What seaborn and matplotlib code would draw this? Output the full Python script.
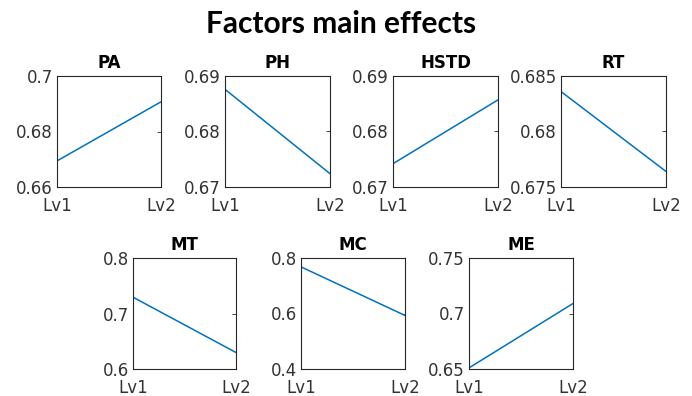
import matplotlib
matplotlib.use("Agg")
import matplotlib.pyplot as plt
import seaborn as sns
import pandas as pd

sns.set_theme(style="white")
plt.rcParams['font.family'] = ['DejaVu Sans']

levels = ["Lv1", "Lv2"]
factors = ["PA", "PH", "HSTD", "RT", "MT", "MC", "ME"]
pa = [0.6694, 0.6907]
ph = [0.6876, 0.6724]
hstd = [0.6742, 0.6857]
rt = [0.6836, 0.6764]
mt = [0.7294, 0.6297]
mc = [0.768, 0.593]
me = [0.651, 0.709]
values = [pa, ph, hstd, rt, mt, mc, me]
ylims = [(0.66, 0.70), (0.67, 0.69), (0.67, 0.69), (0.675, 0.685),
         (0.6, 0.8), (0.4, 0.8), (0.65, 0.75)]
yticks = [[0.66, 0.68, 0.70], [0.67, 0.68, 0.69], [0.67, 0.68, 0.69],
          [0.675, 0.68, 0.685], [0.6, 0.7, 0.8], [0.4, 0.6, 0.8],
          [0.65, 0.7, 0.75]]
yticklabels = [["0.66", "0.68", "0.7"], ["0.67", "0.68", "0.69"],
               ["0.67", "0.68", "0.69"], ["0.675", "0.68", "0.685"],
               ["0.6", "0.7", "0.8"], ["0.4", "0.6", "0.8"],
               ["0.65", "0.7", "0.75"]]

W, H = 692, 396
fig = plt.figure(figsize=(W / 100, H / 100), dpi=100)
fig.patch.set_facecolor("white")

# pixel boxes (left, top, right, bottom)
boxes = [(57, 76, 161, 187), (225, 76, 330, 187), (393, 76, 498, 187),
         (561, 76, 666, 187), (133, 258, 236, 369), (301, 258, 405, 369),
         (469, 258, 573, 369)]

for name, vals, yl, yt, ytl, (l, t, r, b) in zip(factors, values, ylims, yticks, yticklabels, boxes):
    ax = fig.add_axes([l / W, 1 - b / H, (r - l) / W, (b - t) / H])
    df = pd.DataFrame({"level": [0, 1], "value": vals})
    sns.lineplot(data=df, x="level", y="value", ax=ax, color="#0072BD", linewidth=1.1)
    ax.set_xlim(0, 1)
    ax.set_ylim(*yl)
    ax.set_xticks([0, 1])
    ax.set_xticklabels(levels)
    ax.set_yticks(yt)
    ax.set_yticklabels(ytl)
    ax.set_xlabel("")
    ax.set_ylabel("")
    ax.set_title(name, fontsize=12, fontweight="bold", color="black", pad=6)
    ax.tick_params(axis="both", direction="in", length=3, width=0.6, colors="#262626",
                   labelsize=12, labelcolor="#333333", top=True, right=True, pad=3)
    ax.tick_params(axis="x", pad=7)
    for s in ax.spines.values():
        s.set_color("#262626")
        s.set_linewidth(0.8)
        s.set_visible(True)
    ax.set_facecolor("white")

fig.text(341 / W, 1 - 33 / H, "Factors main effects", ha="center", va="baseline",
         fontsize=21.5, fontweight="bold", family=["Lato", "DejaVu Sans"], color="black")

fig.savefig("out.png", dpi=100, facecolor="white")
